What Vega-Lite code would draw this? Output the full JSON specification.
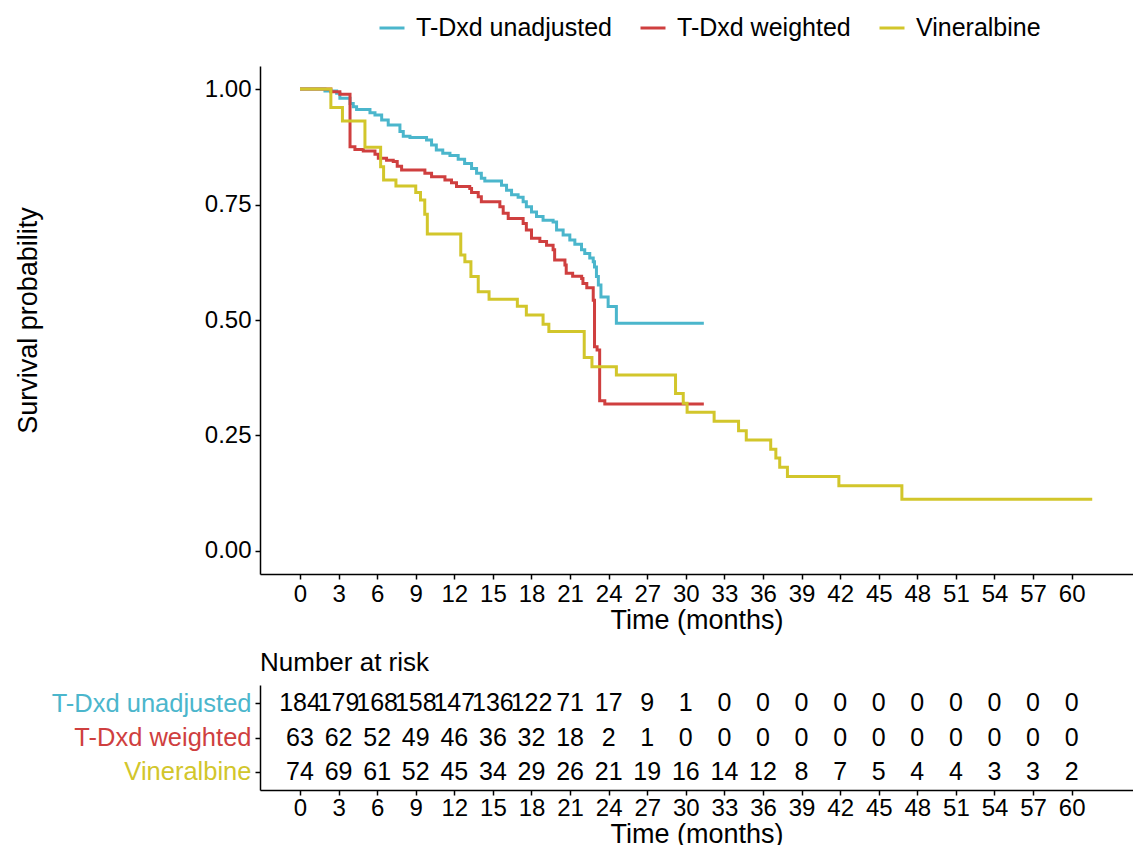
{
  "$schema": "https://vega.github.io/schema/vega-lite/v6.json",
  "padding": {"left": 14, "top": 14, "right": 0, "bottom": 0},
  "background": "white",
  "spacing": 17,
  "config": {
    "view": {"stroke": null},
    "font": "Liberation Sans",
    "axis": {
      "grid": false,
      "domainColor": "black",
      "domainWidth": 1.5,
      "tickColor": "black",
      "tickWidth": 1.5,
      "tickSize": 5,
      "labelColor": "black",
      "titleColor": "black",
      "labelFont": "Liberation Sans",
      "titleFont": "Liberation Sans",
      "titleFontWeight": "normal",
      "labelFontSize": 24,
      "titleFontSize": 27
    },
    "legend": {"labelFont": "Liberation Sans"},
    "title": {"font": "Liberation Sans"}
  },
  "datasets": {
    "km": [
      {"g": "T-Dxd unadjusted", "t": 0, "s": 1.0},
      {"g": "T-Dxd unadjusted", "t": 1.94, "s": 0.996},
      {"g": "T-Dxd unadjusted", "t": 2.85, "s": 0.991},
      {"g": "T-Dxd unadjusted", "t": 3.1, "s": 0.98},
      {"g": "T-Dxd unadjusted", "t": 3.89, "s": 0.969},
      {"g": "T-Dxd unadjusted", "t": 4.14, "s": 0.962},
      {"g": "T-Dxd unadjusted", "t": 4.4, "s": 0.956},
      {"g": "T-Dxd unadjusted", "t": 5.44, "s": 0.949},
      {"g": "T-Dxd unadjusted", "t": 5.83, "s": 0.944},
      {"g": "T-Dxd unadjusted", "t": 6.35, "s": 0.933},
      {"g": "T-Dxd unadjusted", "t": 6.86, "s": 0.922},
      {"g": "T-Dxd unadjusted", "t": 7.77, "s": 0.908},
      {"g": "T-Dxd unadjusted", "t": 8.03, "s": 0.898},
      {"g": "T-Dxd unadjusted", "t": 8.55, "s": 0.895},
      {"g": "T-Dxd unadjusted", "t": 9.84, "s": 0.89},
      {"g": "T-Dxd unadjusted", "t": 10.23, "s": 0.879},
      {"g": "T-Dxd unadjusted", "t": 10.6, "s": 0.868},
      {"g": "T-Dxd unadjusted", "t": 11.1, "s": 0.861},
      {"g": "T-Dxd unadjusted", "t": 11.66, "s": 0.856},
      {"g": "T-Dxd unadjusted", "t": 12.3, "s": 0.848},
      {"g": "T-Dxd unadjusted", "t": 12.8, "s": 0.839},
      {"g": "T-Dxd unadjusted", "t": 13.34, "s": 0.828},
      {"g": "T-Dxd unadjusted", "t": 13.73, "s": 0.818},
      {"g": "T-Dxd unadjusted", "t": 14.1, "s": 0.807},
      {"g": "T-Dxd unadjusted", "t": 14.37, "s": 0.801},
      {"g": "T-Dxd unadjusted", "t": 15.67, "s": 0.792},
      {"g": "T-Dxd unadjusted", "t": 16.06, "s": 0.781},
      {"g": "T-Dxd unadjusted", "t": 16.45, "s": 0.771},
      {"g": "T-Dxd unadjusted", "t": 16.96, "s": 0.766},
      {"g": "T-Dxd unadjusted", "t": 17.35, "s": 0.756},
      {"g": "T-Dxd unadjusted", "t": 17.6, "s": 0.745},
      {"g": "T-Dxd unadjusted", "t": 18.0, "s": 0.734},
      {"g": "T-Dxd unadjusted", "t": 18.39, "s": 0.724},
      {"g": "T-Dxd unadjusted", "t": 18.9, "s": 0.716},
      {"g": "T-Dxd unadjusted", "t": 19.68, "s": 0.712},
      {"g": "T-Dxd unadjusted", "t": 19.95, "s": 0.695},
      {"g": "T-Dxd unadjusted", "t": 20.46, "s": 0.684},
      {"g": "T-Dxd unadjusted", "t": 20.98, "s": 0.673},
      {"g": "T-Dxd unadjusted", "t": 21.37, "s": 0.664},
      {"g": "T-Dxd unadjusted", "t": 21.89, "s": 0.652},
      {"g": "T-Dxd unadjusted", "t": 22.14, "s": 0.644},
      {"g": "T-Dxd unadjusted", "t": 22.53, "s": 0.634},
      {"g": "T-Dxd unadjusted", "t": 22.8, "s": 0.626},
      {"g": "T-Dxd unadjusted", "t": 22.9, "s": 0.615},
      {"g": "T-Dxd unadjusted", "t": 23.05, "s": 0.594},
      {"g": "T-Dxd unadjusted", "t": 23.2, "s": 0.576},
      {"g": "T-Dxd unadjusted", "t": 23.4, "s": 0.55},
      {"g": "T-Dxd unadjusted", "t": 23.96, "s": 0.529},
      {"g": "T-Dxd unadjusted", "t": 24.6, "s": 0.493},
      {"g": "T-Dxd unadjusted", "t": 31.4, "s": 0.493},
      {"g": "T-Dxd weighted", "t": 0, "s": 1.0},
      {"g": "T-Dxd weighted", "t": 2.4, "s": 0.994},
      {"g": "T-Dxd weighted", "t": 3.1, "s": 0.989},
      {"g": "T-Dxd weighted", "t": 3.89, "s": 0.875},
      {"g": "T-Dxd weighted", "t": 4.27, "s": 0.869},
      {"g": "T-Dxd weighted", "t": 4.92, "s": 0.866},
      {"g": "T-Dxd weighted", "t": 5.83, "s": 0.859},
      {"g": "T-Dxd weighted", "t": 6.09, "s": 0.85},
      {"g": "T-Dxd weighted", "t": 6.73, "s": 0.846},
      {"g": "T-Dxd weighted", "t": 7.25, "s": 0.843},
      {"g": "T-Dxd weighted", "t": 7.56, "s": 0.833},
      {"g": "T-Dxd weighted", "t": 7.9, "s": 0.825},
      {"g": "T-Dxd weighted", "t": 9.71, "s": 0.818},
      {"g": "T-Dxd weighted", "t": 10.23, "s": 0.81},
      {"g": "T-Dxd weighted", "t": 11.27, "s": 0.803},
      {"g": "T-Dxd weighted", "t": 11.78, "s": 0.797},
      {"g": "T-Dxd weighted", "t": 12.17, "s": 0.789},
      {"g": "T-Dxd weighted", "t": 13.2, "s": 0.785},
      {"g": "T-Dxd weighted", "t": 13.34, "s": 0.776},
      {"g": "T-Dxd weighted", "t": 13.86, "s": 0.767},
      {"g": "T-Dxd weighted", "t": 14.1, "s": 0.756},
      {"g": "T-Dxd weighted", "t": 15.54, "s": 0.745},
      {"g": "T-Dxd weighted", "t": 15.8, "s": 0.731},
      {"g": "T-Dxd weighted", "t": 16.19, "s": 0.72},
      {"g": "T-Dxd weighted", "t": 17.35, "s": 0.709},
      {"g": "T-Dxd weighted", "t": 17.6, "s": 0.695},
      {"g": "T-Dxd weighted", "t": 18.0, "s": 0.677},
      {"g": "T-Dxd weighted", "t": 18.65, "s": 0.67},
      {"g": "T-Dxd weighted", "t": 19.17, "s": 0.662},
      {"g": "T-Dxd weighted", "t": 19.68, "s": 0.652},
      {"g": "T-Dxd weighted", "t": 19.8, "s": 0.63},
      {"g": "T-Dxd weighted", "t": 20.6, "s": 0.619},
      {"g": "T-Dxd weighted", "t": 20.7, "s": 0.601},
      {"g": "T-Dxd weighted", "t": 21.2, "s": 0.595},
      {"g": "T-Dxd weighted", "t": 21.9, "s": 0.59},
      {"g": "T-Dxd weighted", "t": 22.0, "s": 0.579},
      {"g": "T-Dxd weighted", "t": 22.3, "s": 0.57},
      {"g": "T-Dxd weighted", "t": 22.8, "s": 0.543},
      {"g": "T-Dxd weighted", "t": 22.9, "s": 0.442},
      {"g": "T-Dxd weighted", "t": 23.1, "s": 0.435},
      {"g": "T-Dxd weighted", "t": 23.3, "s": 0.325},
      {"g": "T-Dxd weighted", "t": 23.7, "s": 0.318},
      {"g": "T-Dxd weighted", "t": 31.4, "s": 0.318},
      {"g": "Vineralbine", "t": 0, "s": 1.0},
      {"g": "Vineralbine", "t": 2.4, "s": 0.96},
      {"g": "Vineralbine", "t": 3.3, "s": 0.931},
      {"g": "Vineralbine", "t": 5.05, "s": 0.874},
      {"g": "Vineralbine", "t": 6.27, "s": 0.832},
      {"g": "Vineralbine", "t": 6.5, "s": 0.803},
      {"g": "Vineralbine", "t": 7.46, "s": 0.79},
      {"g": "Vineralbine", "t": 9.0, "s": 0.776},
      {"g": "Vineralbine", "t": 9.37, "s": 0.76},
      {"g": "Vineralbine", "t": 9.7, "s": 0.729},
      {"g": "Vineralbine", "t": 9.9, "s": 0.686},
      {"g": "Vineralbine", "t": 12.5, "s": 0.641},
      {"g": "Vineralbine", "t": 12.82, "s": 0.626},
      {"g": "Vineralbine", "t": 13.29, "s": 0.594},
      {"g": "Vineralbine", "t": 13.86, "s": 0.561},
      {"g": "Vineralbine", "t": 14.7, "s": 0.545},
      {"g": "Vineralbine", "t": 16.9, "s": 0.53},
      {"g": "Vineralbine", "t": 17.6, "s": 0.511},
      {"g": "Vineralbine", "t": 18.9, "s": 0.491},
      {"g": "Vineralbine", "t": 19.35, "s": 0.475},
      {"g": "Vineralbine", "t": 22.1, "s": 0.419},
      {"g": "Vineralbine", "t": 22.7, "s": 0.399},
      {"g": "Vineralbine", "t": 24.6, "s": 0.381},
      {"g": "Vineralbine", "t": 29.2, "s": 0.341},
      {"g": "Vineralbine", "t": 29.8, "s": 0.32},
      {"g": "Vineralbine", "t": 30.1, "s": 0.3},
      {"g": "Vineralbine", "t": 32.2, "s": 0.281},
      {"g": "Vineralbine", "t": 34.1, "s": 0.26},
      {"g": "Vineralbine", "t": 34.7, "s": 0.24},
      {"g": "Vineralbine", "t": 36.6, "s": 0.22},
      {"g": "Vineralbine", "t": 37.0, "s": 0.201},
      {"g": "Vineralbine", "t": 37.3, "s": 0.181},
      {"g": "Vineralbine", "t": 37.9, "s": 0.161},
      {"g": "Vineralbine", "t": 41.9, "s": 0.141},
      {"g": "Vineralbine", "t": 46.8, "s": 0.112},
      {"g": "Vineralbine", "t": 61.6, "s": 0.112}
    ],
    "risk": [
      {"g": "T-Dxd unadjusted", "t": 0, "n": 184},
      {"g": "T-Dxd unadjusted", "t": 3, "n": 179},
      {"g": "T-Dxd unadjusted", "t": 6, "n": 168},
      {"g": "T-Dxd unadjusted", "t": 9, "n": 158},
      {"g": "T-Dxd unadjusted", "t": 12, "n": 147},
      {"g": "T-Dxd unadjusted", "t": 15, "n": 136},
      {"g": "T-Dxd unadjusted", "t": 18, "n": 122},
      {"g": "T-Dxd unadjusted", "t": 21, "n": 71},
      {"g": "T-Dxd unadjusted", "t": 24, "n": 17},
      {"g": "T-Dxd unadjusted", "t": 27, "n": 9},
      {"g": "T-Dxd unadjusted", "t": 30, "n": 1},
      {"g": "T-Dxd unadjusted", "t": 33, "n": 0},
      {"g": "T-Dxd unadjusted", "t": 36, "n": 0},
      {"g": "T-Dxd unadjusted", "t": 39, "n": 0},
      {"g": "T-Dxd unadjusted", "t": 42, "n": 0},
      {"g": "T-Dxd unadjusted", "t": 45, "n": 0},
      {"g": "T-Dxd unadjusted", "t": 48, "n": 0},
      {"g": "T-Dxd unadjusted", "t": 51, "n": 0},
      {"g": "T-Dxd unadjusted", "t": 54, "n": 0},
      {"g": "T-Dxd unadjusted", "t": 57, "n": 0},
      {"g": "T-Dxd unadjusted", "t": 60, "n": 0},
      {"g": "T-Dxd weighted", "t": 0, "n": 63},
      {"g": "T-Dxd weighted", "t": 3, "n": 62},
      {"g": "T-Dxd weighted", "t": 6, "n": 52},
      {"g": "T-Dxd weighted", "t": 9, "n": 49},
      {"g": "T-Dxd weighted", "t": 12, "n": 46},
      {"g": "T-Dxd weighted", "t": 15, "n": 36},
      {"g": "T-Dxd weighted", "t": 18, "n": 32},
      {"g": "T-Dxd weighted", "t": 21, "n": 18},
      {"g": "T-Dxd weighted", "t": 24, "n": 2},
      {"g": "T-Dxd weighted", "t": 27, "n": 1},
      {"g": "T-Dxd weighted", "t": 30, "n": 0},
      {"g": "T-Dxd weighted", "t": 33, "n": 0},
      {"g": "T-Dxd weighted", "t": 36, "n": 0},
      {"g": "T-Dxd weighted", "t": 39, "n": 0},
      {"g": "T-Dxd weighted", "t": 42, "n": 0},
      {"g": "T-Dxd weighted", "t": 45, "n": 0},
      {"g": "T-Dxd weighted", "t": 48, "n": 0},
      {"g": "T-Dxd weighted", "t": 51, "n": 0},
      {"g": "T-Dxd weighted", "t": 54, "n": 0},
      {"g": "T-Dxd weighted", "t": 57, "n": 0},
      {"g": "T-Dxd weighted", "t": 60, "n": 0},
      {"g": "Vineralbine", "t": 0, "n": 74},
      {"g": "Vineralbine", "t": 3, "n": 69},
      {"g": "Vineralbine", "t": 6, "n": 61},
      {"g": "Vineralbine", "t": 9, "n": 52},
      {"g": "Vineralbine", "t": 12, "n": 45},
      {"g": "Vineralbine", "t": 15, "n": 34},
      {"g": "Vineralbine", "t": 18, "n": 29},
      {"g": "Vineralbine", "t": 21, "n": 26},
      {"g": "Vineralbine", "t": 24, "n": 21},
      {"g": "Vineralbine", "t": 27, "n": 19},
      {"g": "Vineralbine", "t": 30, "n": 16},
      {"g": "Vineralbine", "t": 33, "n": 14},
      {"g": "Vineralbine", "t": 36, "n": 12},
      {"g": "Vineralbine", "t": 39, "n": 8},
      {"g": "Vineralbine", "t": 42, "n": 7},
      {"g": "Vineralbine", "t": 45, "n": 5},
      {"g": "Vineralbine", "t": 48, "n": 4},
      {"g": "Vineralbine", "t": 51, "n": 4},
      {"g": "Vineralbine", "t": 54, "n": 3},
      {"g": "Vineralbine", "t": 57, "n": 3},
      {"g": "Vineralbine", "t": 60, "n": 2}
    ]
  },
  "vconcat": [
    {
      "width": 873,
      "height": 508,
      "data": {"name": "km"},
      "mark": {"type": "line", "interpolate": "step-after", "strokeWidth": 3},
      "encoding": {
        "x": {
          "field": "t", "type": "quantitative",
          "scale": {"domain": [-3.11, 64.77], "nice": false, "zero": false},
          "axis": {
            "values": [0, 3, 6, 9, 12, 15, 18, 21, 24, 27, 30, 33, 36, 39, 42, 45, 48, 51, 54, 57, 60],
            "labelFlush": false, "labelOverlap": false,
            "labelPadding": 3, "titlePadding": 1,
            "title": "Time (months)"
          }
        },
        "y": {
          "field": "s", "type": "quantitative",
          "scale": {"domain": [-0.05, 1.05], "nice": false, "zero": false},
          "axis": {
            "values": [0, 0.25, 0.5, 0.75, 1],
            "format": ".2f",
            "labelPadding": 4,
            "titlePadding": 162,
            "title": "Survival probability"
          }
        },
        "color": {
          "field": "g", "type": "nominal",
          "scale": {
            "domain": ["T-Dxd unadjusted", "T-Dxd weighted", "Vineralbine"],
            "range": ["#4BB6CC", "#CF3F3F", "#D2C62B"]
          },
          "legend": {
            "orient": "none",
            "legendX": 118,
            "legendY": -52,
            "direction": "horizontal",
            "title": null,
            "symbolType": "stroke",
            "symbolSize": 625,
            "symbolStrokeWidth": 3,
            "labelFontSize": 25,
            "labelLimit": 500,
            "labelColor": "black",
            "labelOffset": 10,
            "columnPadding": 22
          }
        }
      }
    },
    {
      "width": 873,
      "height": 105,
      "title": {
        "text": "Number at risk",
        "anchor": "start",
        "frame": "group",
        "fontSize": 26,
        "fontWeight": "normal",
        "color": "black",
        "offset": 9
      },
      "data": {"name": "risk"},
      "mark": {"type": "text", "fontSize": 25, "color": "black", "font": "Liberation Sans"},
      "encoding": {
        "x": {
          "field": "t", "type": "quantitative",
          "scale": {"domain": [-3.11, 64.77], "nice": false, "zero": false},
          "axis": {
            "values": [0, 3, 6, 9, 12, 15, 18, 21, 24, 27, 30, 33, 36, 39, 42, 45, 48, 51, 54, 57, 60],
            "labelFlush": false, "labelOverlap": false,
            "labelPadding": 1, "titlePadding": 1,
            "title": "Time (months)"
          }
        },
        "y": {
          "field": "g", "type": "nominal",
          "sort": ["T-Dxd unadjusted", "T-Dxd weighted", "Vineralbine"],
          "scale": {"type": "point", "padding": 0.54},
          "axis": {
            "title": null,
            "labelFontSize": 25.5,
            "labelLimit": 500,
            "labelPadding": 4,
            "labelColor": {"expr": "datum.label == 'T-Dxd unadjusted' ? '#4BB6CC' : datum.label == 'T-Dxd weighted' ? '#CF3F3F' : '#D2C62B'"}
          }
        },
        "text": {"field": "n", "type": "quantitative"}
      }
    }
  ]
}
